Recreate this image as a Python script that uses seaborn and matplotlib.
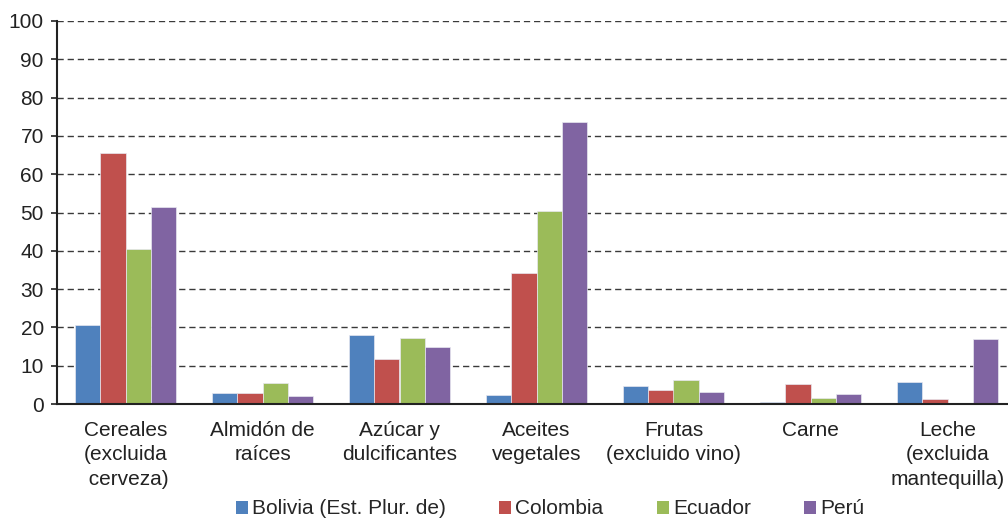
import matplotlib
matplotlib.use("Agg")
import matplotlib.pyplot as plt
import seaborn as sns
import pandas as pd
from matplotlib.patches import Patch

categories = ["Cereales\n(excluida\n cerveza)", "Almidón de\nraíces", "Azúcar y\ndulcificantes",
              "Aceites\nvegetales", "Frutas\n(excluido vino)", "Carne", "Leche\n(excluida\nmantequilla)"]
series_names = ["Bolivia (Est. Plur. de)", "Colombia", "Ecuador", "Perú"]
bolivia = [20.6, 3.0, 17.9, 2.4, 4.8, 0.4, 5.8]
colombia = [65.6, 2.8, 11.7, 34.3, 3.7, 5.3, 1.3]
ecuador = [40.4, 5.4, 17.3, 50.3, 6.3, 1.5, 0.1]
peru = [51.5, 2.1, 15.0, 73.7, 3.1, 2.7, 16.9]
colors = ["#4F81BD", "#C0504D", "#9BBB59", "#8064A2"]
y_ticks = [0, 10, 20, 30, 40, 50, 60, 70, 80, 90, 100]

rows = []
for name, vals in zip(series_names, [bolivia, colombia, ecuador, peru]):
    for c, v in zip(categories, vals):
        rows.append({"cat": c, "country": name, "value": v})
df = pd.DataFrame(rows)

sns.set_style("white")
plt.rcParams["font.family"] = ["Liberation Sans", "DejaVu Sans"]

FS = 15
fig = plt.figure(figsize=(10.08, 5.18), dpi=100)
ax = fig.add_axes([57 / 1008, 114 / 518, 959 / 1008, 383 / 518])

sns.barplot(data=df, x="cat", y="value", hue="country", order=categories,
            hue_order=series_names, palette=colors, width=0.73, ax=ax,
            edgecolor="#e8e8f0", linewidth=0.5, legend=False, saturation=1)

ax.set_ylim(0, 100)
ax.set_xlim(-0.5, len(categories) - 0.5)
ax.set_yticks(y_ticks)
ax.set_yticklabels([str(t) for t in y_ticks], fontsize=FS, color="#222222")
ax.set_xlabel("")
ax.set_ylabel("")
ax.set_axisbelow(True)
for t in y_ticks[1:]:
    ax.axhline(t, color="#3a3a3a", linewidth=1.0, linestyle=(0, (4.5, 2.8)), zorder=0)

ax.set_xticks(range(len(categories)))
ax.set_xticklabels(categories, fontsize=FS, color="#222222", linespacing=1.37)
ax.set_xticks([i - 0.5 for i in range(len(categories) + 1)], minor=True)
ax.tick_params(axis="x", which="major", length=0, pad=12)
ax.tick_params(axis="x", which="minor", length=4.5, width=1.2, color="#222222", direction="out")
ax.tick_params(axis="y", which="major", length=4.5, width=1.2, color="#222222", direction="out", left=True, pad=5)

for s in ["top", "right"]:
    ax.spines[s].set_visible(False)
for s in ["left", "bottom"]:
    ax.spines[s].set_color("#222222")
    ax.spines[s].set_linewidth(1.5)

handles = [Patch(facecolor=c, edgecolor="none") for c in colors]
fig.legend(handles, series_names, loc="center", bbox_to_anchor=(550 / 1008, 9 / 518),
           ncol=4, frameon=False, fontsize=FS, handlelength=0.58, handleheight=0.58,
           handletextpad=0.2, columnspacing=2.55, borderaxespad=0, borderpad=0)

fig.savefig("out.png", dpi=100)
